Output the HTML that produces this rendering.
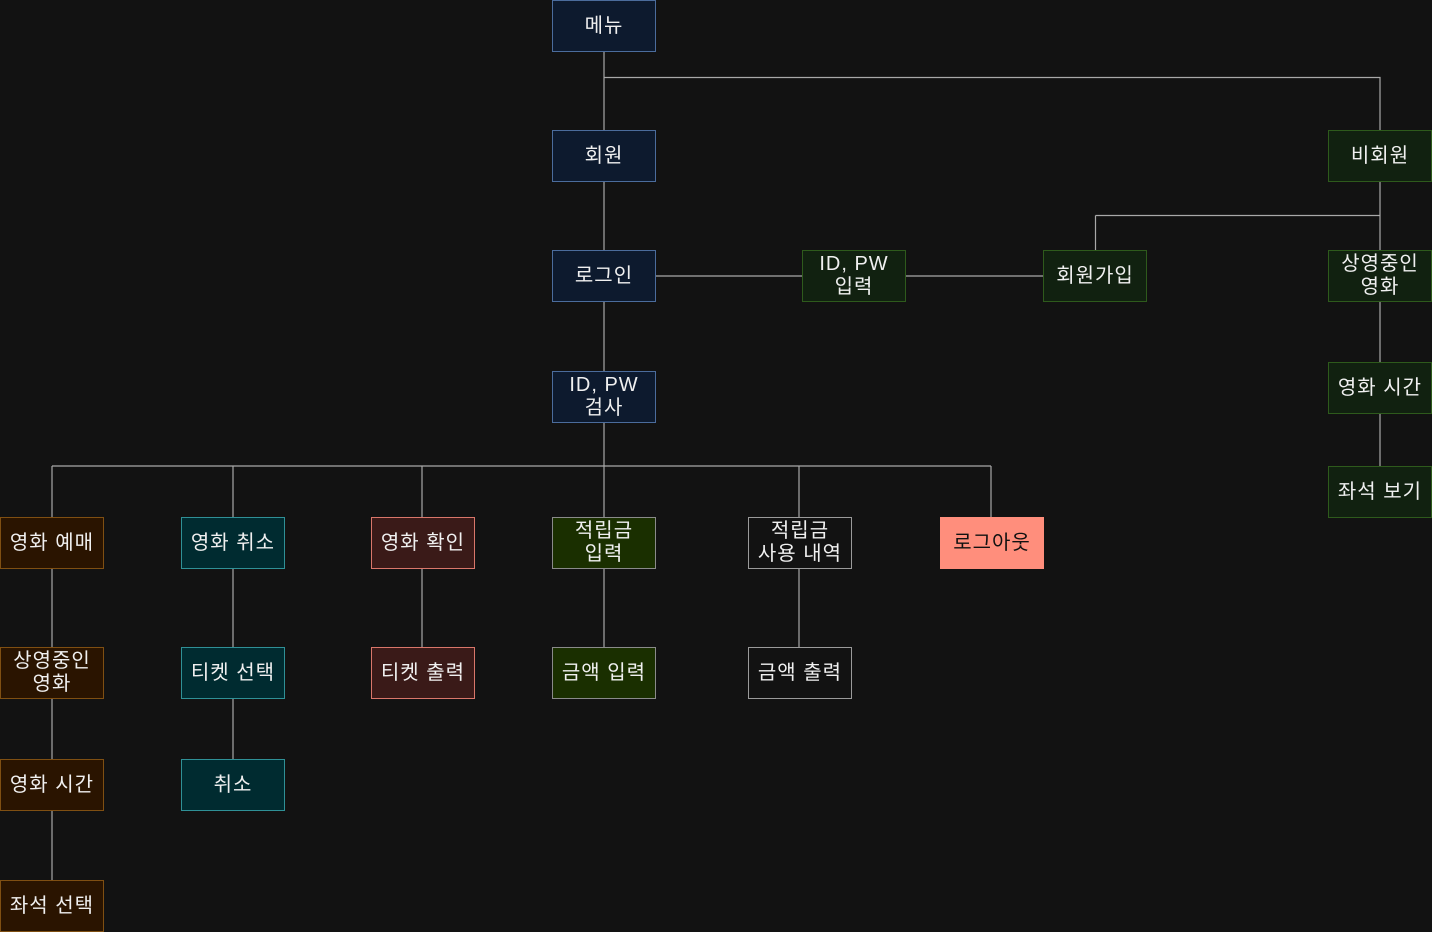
<!DOCTYPE html>
<html><head><meta charset="utf-8"><style>
html,body{margin:0;padding:0;background:#121212;}
body{width:1432px;height:932px;position:relative;overflow:hidden;font-family:"Liberation Sans","Noto Sans CJK KR",sans-serif;}
svg{position:absolute;left:0;top:0;}
.b{position:absolute;width:102px;height:50px;border:1px solid;display:flex;align-items:center;justify-content:center;text-align:center;color:#f0f0f0;font-size:20px;line-height:23px;letter-spacing:1px;box-sizing:content-box;}
.bl{background:#0d1a2e;border-color:#4b6c9c;}
.gr{background:#112110;border-color:#2e5a1c;}
.br{background:#2a1400;border-color:#7f4f12;}
.te{background:#002b30;border-color:#2f9096;}
.re{background:#3a1a18;border-color:#d9766a;}
.g2{background:#1a2f00;border-color:#8a8a8a;}
.dk{background:#121212;border-color:#9a9a9a;}
.lo{background:#ff8e7c;border-color:#ff8e7c;color:#111;}
</style></head><body>
<svg width="1432" height="932" stroke="#a8a8a8" stroke-width="1.2" fill="none">
<path d="M604 52V130M604 77.5H1380V130M1380 182V250M1095.5 215.5H1380M1095.5 215.5V250M1380 302V362M1380 414V466"/>
<path d="M604 182V250M604 302V371M604 423V517M656 276H802M906 276H1043"/>
<path d="M52 466H991M52 466V517M233 466V517M422 466V517M799 466V517M991 466V517"/>
<path d="M52 569V647M52 699V759M52 811V880M233 569V647M233 699V759M422 569V647M604 569V647M799 569V647"/>
</svg>
<div class="b bl" style="left:552px;top:0">메뉴</div>
<div class="b bl" style="left:552px;top:130px">회원</div>
<div class="b bl" style="left:552px;top:250px">로그인</div>
<div class="b bl" style="left:552px;top:371px">ID, PW<br>검사</div>
<div class="b gr" style="left:802px;top:250px">ID, PW<br>입력</div>
<div class="b gr" style="left:1043px;top:250px">회원가입</div>
<div class="b gr" style="left:1328px;top:130px">비회원</div>
<div class="b gr" style="left:1328px;top:250px">상영중인<br>영화</div>
<div class="b gr" style="left:1328px;top:362px">영화 시간</div>
<div class="b gr" style="left:1328px;top:466px">좌석 보기</div>
<div class="b br" style="left:0;top:517px">영화 예매</div>
<div class="b br" style="left:0;top:647px">상영중인<br>영화</div>
<div class="b br" style="left:0;top:759px">영화 시간</div>
<div class="b br" style="left:0;top:880px">좌석 선택</div>
<div class="b te" style="left:181px;top:517px">영화 취소</div>
<div class="b te" style="left:181px;top:647px">티켓 선택</div>
<div class="b te" style="left:181px;top:759px">취소</div>
<div class="b re" style="left:371px;top:517px">영화 확인</div>
<div class="b re" style="left:371px;top:647px">티켓 출력</div>
<div class="b g2" style="left:552px;top:517px">적립금<br>입력</div>
<div class="b g2" style="left:552px;top:647px">금액 입력</div>
<div class="b dk" style="left:748px;top:517px">적립금<br>사용 내역</div>
<div class="b dk" style="left:748px;top:647px">금액 출력</div>
<div class="b lo" style="left:940px;top:517px">로그아웃</div>
</body></html>
